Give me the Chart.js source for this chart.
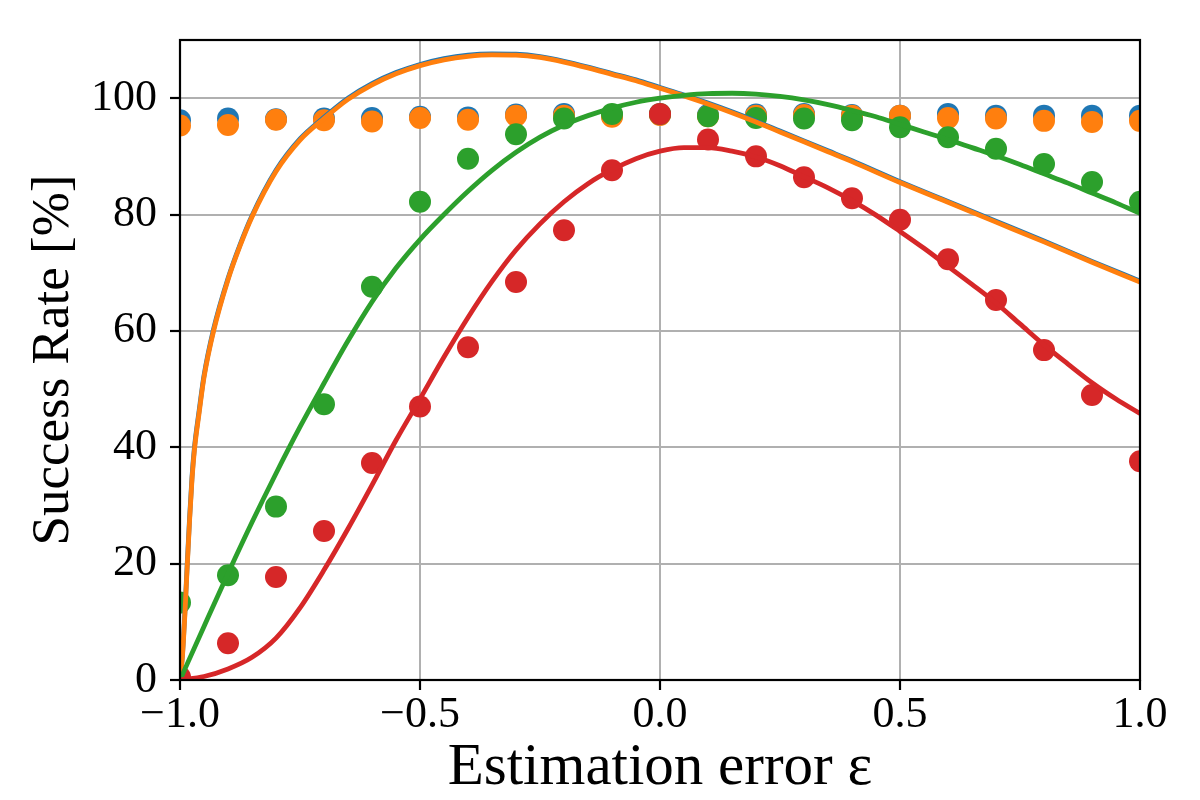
<!DOCTYPE html>
<html>
<head>
<meta charset="utf-8">
<script src="https://cdn.jsdelivr.net/npm/chart.js@4.4.0/dist/chart.umd.min.js"></script>
<style>
html,body{margin:0;padding:0;background:#fff;}
#wrap{width:1200px;height:800px;position:relative;}
</style>
</head>
<body>
<div id="wrap"><canvas id="c" width="1200" height="800"></canvas></div>
<script>
// ---- measured points (estimation error epsilon vs success rate %) ----
const epsPoints = [-1.0, -0.9, -0.8, -0.7, -0.6, -0.5, -0.4, -0.3, -0.2, -0.1, 0.0, 0.1, 0.2, 0.3, 0.4, 0.5, 0.6, 0.7, 0.8, 0.9, 1.0];
const blueDots   = [96.2, 96.5, 96.4, 96.5, 96.6, 96.8, 96.7, 97.2, 97.3, 97.0, 97.2, 97.1, 97.2, 97.3, 97.1, 97.0, 97.3, 97.0, 97.0, 97.0, 97.0];
const orangeDots = [95.3, 95.4, 96.3, 96.2, 96.0, 96.6, 96.3, 97.0, 97.0, 96.8, 97.1, 96.9, 97.0, 97.1, 97.0, 97.0, 96.6, 96.5, 96.1, 95.9, 96.1];
const greenDots  = [13.3, 18.0, 29.8, 47.4, 67.6, 82.2, 89.6, 93.8, 96.5, 97.3, 97.3, 96.9, 96.6, 96.5, 96.2, 95.0, 93.3, 91.3, 88.7, 85.6, 82.2];
const redDots    = [0.5, 6.3, 17.7, 25.6, 37.3, 47.0, 57.2, 68.4, 77.3, 87.6, 97.3, 92.9, 90.0, 86.4, 82.8, 79.1, 72.3, 65.3, 56.7, 49.0, 37.6];

// ---- fitted curves ----
const fitXA = [-1.0, -0.995, -0.99, -0.985, -0.98, -0.975, -0.97, -0.96, -0.95, -0.93, -0.9, -0.875, -0.85, -0.8, -0.75, -0.7, -0.65, -0.6, -0.55, -0.5, -0.45, -0.4, -0.35, -0.3, -0.25, -0.2, -0.15, -0.1, -0.05, 0.0, 0.05, 0.1, 0.15, 0.2, 0.25, 0.3, 0.35, 0.4, 0.5, 0.6, 0.7, 0.8, 0.9, 1.0];
const orangeFit = [0, 4, 11, 19.5, 27.5, 34.5, 39.5, 46, 52, 60, 68.8, 74.6, 79.6, 87.4, 92.8, 96.5, 99.8, 102.3, 104.2, 105.6, 106.6, 107.2, 107.45, 107.4, 107.0, 106.2, 105.2, 104.1, 103.0, 101.7, 100.4, 99.0, 97.5, 95.9, 94.2, 92.5, 90.8, 89.1, 85.5, 82.1, 78.7, 75.3, 71.8, 68.4];
const blueFit   = [0, 4.3, 11.4, 19.9, 27.9, 34.9, 39.9, 46.4, 52.3, 60.3, 69.0, 74.8, 79.8, 87.6, 93.0, 96.7, 100.0, 102.5, 104.4, 105.8, 106.8, 107.4, 107.6, 107.55, 107.15, 106.35, 105.35, 104.25, 103.15, 101.85, 100.55, 99.15, 97.65, 96.05, 94.35, 92.65, 90.95, 89.25, 85.65, 82.25, 78.85, 75.45, 71.95, 68.55];

const fitXB = [-1.0, -0.95, -0.9, -0.85, -0.8, -0.75, -0.7, -0.65, -0.6, -0.55, -0.5, -0.45, -0.4, -0.35, -0.3, -0.25, -0.2, -0.15, -0.1, -0.05, 0.0, 0.05, 0.1, 0.15, 0.2, 0.25, 0.3, 0.35, 0.4, 0.45, 0.5, 0.55, 0.6, 0.65, 0.7, 0.75, 0.8, 0.85, 0.9, 0.95, 1.0];
const greenFit = [0, 9.2, 18.3, 27.1, 35.5, 43.5, 51.0, 58.3, 65.0, 70.8, 75.7, 80.0, 84.0, 87.6, 90.7, 93.3, 95.4, 97.0, 98.3, 99.3, 100.0, 100.5, 100.8, 100.85, 100.7, 100.3, 99.7, 98.9, 97.9, 96.8, 95.5, 94.2, 92.9, 91.5, 90.1, 88.6, 87.0, 85.4, 83.7, 82.0, 80.2];
const redFit   = [0, 0.6, 1.9, 3.9, 7.2, 12.4, 18.9, 26.0, 33.5, 41.2, 48.3, 55.5, 62.3, 68.5, 73.9, 78.4, 82.2, 85.3, 87.7, 89.6, 90.9, 91.5, 91.5, 90.9, 89.9, 88.4, 86.5, 84.6, 82.4, 79.9, 77.1, 74.2, 71.1, 68.0, 64.8, 61.2, 57.6, 54.3, 51.1, 48.3, 45.8];

// ---- axes ----
const xTicks = [-1.0, -0.5, 0.0, 0.5, 1.0];
const yTicks = [0, 20, 40, 60, 80, 100];
const xTitle = 'Estimation error \u03b5';
const yTitle = 'Success Rate [%]';

const C = {blue:'#1f77b4', orange:'#ff7f0e', green:'#2ca02c', red:'#d62728'};
const FONT = "'Liberation Serif', 'Times New Roman', serif";

const pts = (xs, ys) => xs.map((x, i) => ({x: x, y: ys[i]}));

function dots(ys, color, order) {
  return {data: pts(epsPoints, ys), showLine: false, pointRadius: 11, pointHoverRadius: 11,
    pointBorderWidth: 0, backgroundColor: color, borderColor: color, order: order, clip: 0};
}
function curve(xs, ys, color, order) {
  return {data: pts(xs, ys), showLine: true, pointRadius: 0, pointHoverRadius: 0, borderWidth: 4.8,
    borderColor: color, backgroundColor: color, cubicInterpolationMode: 'monotone', fill: false,
    order: order, clip: 0, borderCapStyle: 'butt', borderJoinStyle: 'round'};
}

const bgPlugin = {
  id: 'bg',
  beforeDraw(chart) {
    const ctx = chart.ctx;
    ctx.save(); ctx.fillStyle = '#fff'; ctx.fillRect(0, 0, chart.width, chart.height); ctx.restore();
  }
};
const framePlugin = {
  id: 'frame',
  afterDatasetsDraw(chart) {
    const a = chart.chartArea, ctx = chart.ctx;
    ctx.save(); ctx.strokeStyle = '#000'; ctx.lineWidth = 2.2;
    ctx.strokeRect(a.left, a.top, a.right - a.left, a.bottom - a.top);
    ctx.restore();
  }
};

new Chart(document.getElementById('c'), {
  type: 'line',
  data: {
    datasets: [
      dots(blueDots, C.blue, 8),
      dots(orangeDots, C.orange, 7),
      dots(greenDots, C.green, 6),
      dots(redDots, C.red, 5),
      curve(fitXA, blueFit, C.blue, 4),
      curve(fitXA, orangeFit, C.orange, 3),
      curve(fitXB, greenFit, C.green, 2),
      curve(fitXB, redFit, C.red, 1)
    ]
  },
  options: {
    responsive: false,
    animation: false,
    devicePixelRatio: 1,
    events: [],
    layout: {padding: {left: 0, right: 60, top: 40, bottom: 0}},
    plugins: {legend: {display: false}, tooltip: {enabled: false}},
    scales: {
      x: {
        type: 'linear', min: -1, max: 1,
        afterFit: s => { s.height = 120; },
        afterBuildTicks: s => { s.ticks = xTicks.map(v => ({value: v})); },
        grid: {color: '#b0b0b0', lineWidth: 2, drawTicks: true, tickLength: 10, tickWidth: 2.2, tickColor: '#000'},
        border: {display: false},
        ticks: {autoSkip: false, maxRotation: 0, padding: 3.5, color: '#000',
          font: {family: FONT, size: 44, lineHeight: 1},
          callback: v => (v < 0 ? '\u2212' : '') + Math.abs(v).toFixed(1)},
        title: {display: true, text: xTitle, color: '#000',
          font: {family: FONT, size: 59, lineHeight: 1}, padding: {top: 0, bottom: 2}}
      },
      y: {
        type: 'linear', min: 0, max: 110,
        afterFit: s => { s.width = 180; },
        afterBuildTicks: s => { s.ticks = yTicks.map(v => ({value: v})); },
        grid: {color: '#b0b0b0', lineWidth: 2, drawTicks: true, tickLength: 10, tickWidth: 2.2, tickColor: '#000'},
        border: {display: false},
        ticks: {autoSkip: false, padding: 13, color: '#000',
          font: {family: FONT, size: 44, lineHeight: 1},
          callback: v => String(v)},
        title: {display: true, text: yTitle, color: '#000',
          font: {family: FONT, size: 53, lineHeight: 1}, padding: {top: 28, bottom: 0}}
      }
    }
  },
  plugins: [bgPlugin, framePlugin]
});
</script>
</body>
</html>
